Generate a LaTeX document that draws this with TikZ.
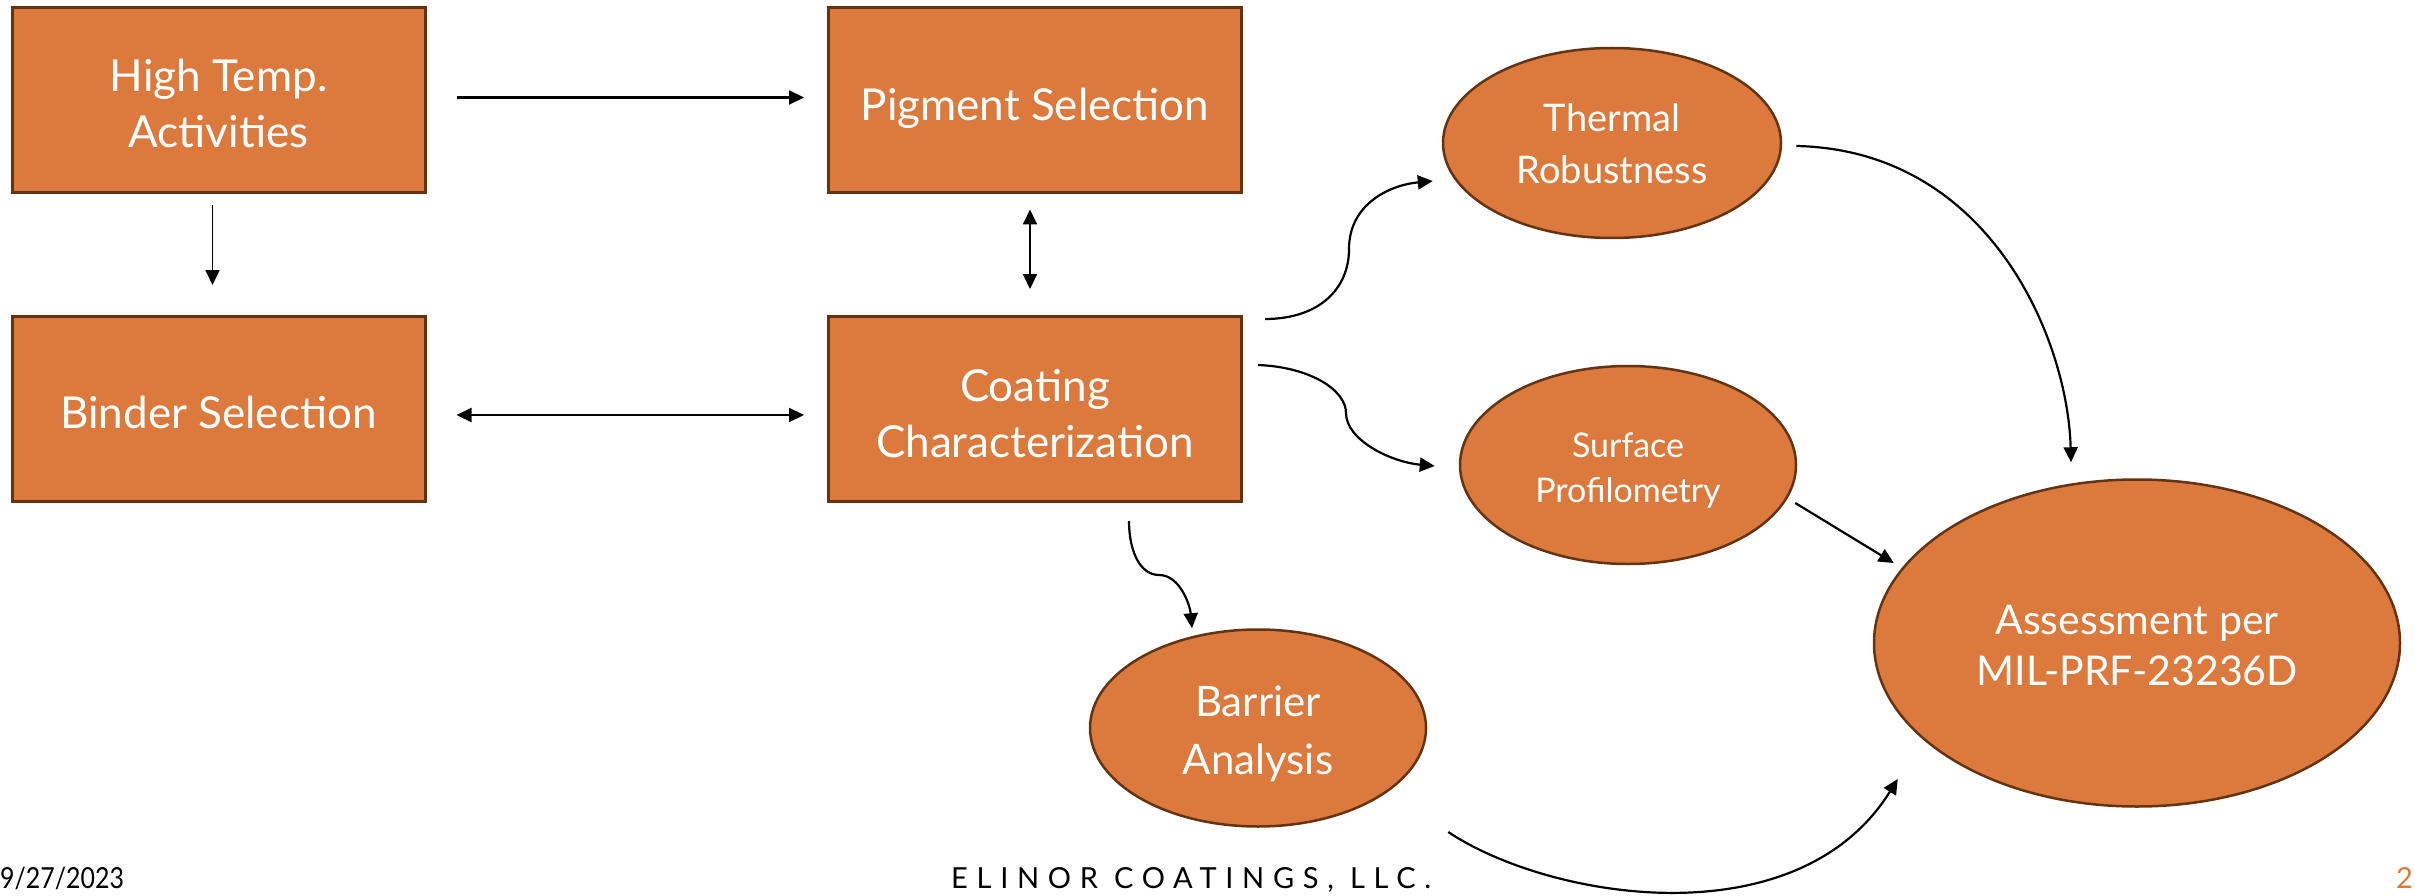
\documentclass[tikz,border=0pt]{standalone}
\usepackage{fontspec}
\setmainfont{Lato}
\usetikzlibrary{shapes.geometric,arrows.meta,calc}
\definecolor{orng}{HTML}{DC793D}
\definecolor{brwn}{RGB}{100,52,18}
\begin{document}
\begin{tikzpicture}[x=1pt,y=-1pt,
  stepbox/.style={rectangle,fill=orng,draw=brwn,line width=3pt,minimum width=413pt,minimum height=185pt,inner sep=0pt,align=center,text=white,text depth=0pt,font=\fontsize{44}{56}\selectfont},
  oval/.style={ellipse,fill=orng,draw=brwn,line width=2.5pt,inner sep=0pt,align=center,text=white,text depth=0pt},
  arr/.style={line width=2.2pt,-{Triangle[length=15pt,width=14pt]}},
  darr/.style={line width=2.2pt,{Triangle[length=15pt,width=14pt]}-{Triangle[length=15pt,width=14pt]}},
  foot/.style={inner sep=0pt,font=\fontsize{29}{29}\selectfont}
]
\useasboundingbox (0,0) rectangle (2415,896);
% boxes
\node[stepbox,text height=94pt] (ht) at (218.5,100.5) {High Temp.\\Activities};
\node[stepbox,text height=40pt] (pig) at (1035,100.5) {Pigment Selection};
\node[stepbox,text height=38pt] (bin) at (218.5,409) {Binder Selection};
\node[stepbox,text height=97pt] (coat) at (1035,409) {Coating\\Characterization};
% ellipses
\node[oval,minimum width=338pt,minimum height=190pt,text height=82pt,font=\fontsize{38}{52}\selectfont] (th) at (1612,143) {Thermal\\Robustness};
\node[oval,minimum width=336pt,minimum height=198pt,text height=74pt,font=\fontsize{34}{45}\selectfont] (sp) at (1628,465) {Surface\\Profilometry};
\node[oval,minimum width=336pt,minimum height=197pt,text height=92pt,font=\fontsize{42}{58}\selectfont] (ba) at (1258,728) {Barrier\\Analysis};
\node[oval,minimum width=526pt,minimum height=327pt,text height=84pt,font=\fontsize{41}{51}\selectfont] (as) at (2137,643) {Assessment per\\MIL-PRF-23236D};
% straight connectors
\draw[arr] ($(ht.east)+(30,-3)$) -- ($(pig.west)+(-23,-3)$);
\draw[arr,line width=1.8pt] ($(ht.south)+(-6,11)$) -- ($(bin.north)+(-6,-30)$);
\draw[darr] ($(pig.south)+(-5,15)$) -- ($(coat.north)+(-5,-26)$);
\draw[darr] ($(bin.east)+(30,6)$) -- ($(coat.west)+(-23,6)$);
% curved connectors
\coordinate (c1s) at ($(coat.north east)+(22,4)$);
\coordinate (c1m) at ($(coat.north east)+(106,-66)$);
\coordinate (c1e) at ($(th.west)+(-9,38)$);
\draw[arr] (c1s) .. controls +(54,0) and +(0,40) .. (c1m) .. controls +(0,-45) and +(-43,4) .. (c1e);
\coordinate (c2s) at ($(coat.east)+(15,-44)$);
\coordinate (c2m) at ($(coat.east)+(103,4)$);
\coordinate (c2e) at ($(sp.west)+(-24,1)$);
\draw[arr] (c2s) .. controls +(52,2) and +(0,-23) .. (c2m) .. controls +(0,27) and +(-44,-4) .. (c2e);
\coordinate (c3s) at ($(coat.south)+(94,18)$);
\coordinate (c3m) at ($(coat.south)+(124,72)$);
\coordinate (c3e) at ($(ba.north)+(-66,0)$);
\draw[arr] (c3s) .. controls +(0,30) and +(-19,0) .. (c3m) .. controls +(21,0) and +(-2,-23) .. (c3e);
\coordinate (c4s) at ($(th.east)+(14,3)$);
\coordinate (c4e) at ($(as.north)+(-66,-16)$);
\draw[arr] (c4s) .. controls +(194,4) and +(-3,-122) .. (c4e);
\coordinate (c5s) at ($(sp.east)+(-2,38)$);
\coordinate (c5e) at ($(as.west)+(21,-80)$);
\draw[arr] (c5s) -- (c5e);
\coordinate (c6s) at ($(ba.east)+(21,104)$);
\coordinate (c6e) at ($(as.west)+(25,136)$);
\draw[arr] (c6s) .. controls +(102,68) and +(-100,161) .. (c6e);
% footer
\node[foot,anchor=base west] (date) at (0,888) {\scalebox{0.86}[1]{9/27/2023}};
\node[foot,anchor=base west] (co) at (951,888) {\addfontfeatures{LetterSpace=30}ELINOR COATINGS, LLC.};
\node[foot,anchor=base east,text=orng] (pg) at (2413,888) {2};
\end{tikzpicture}
\end{document}
